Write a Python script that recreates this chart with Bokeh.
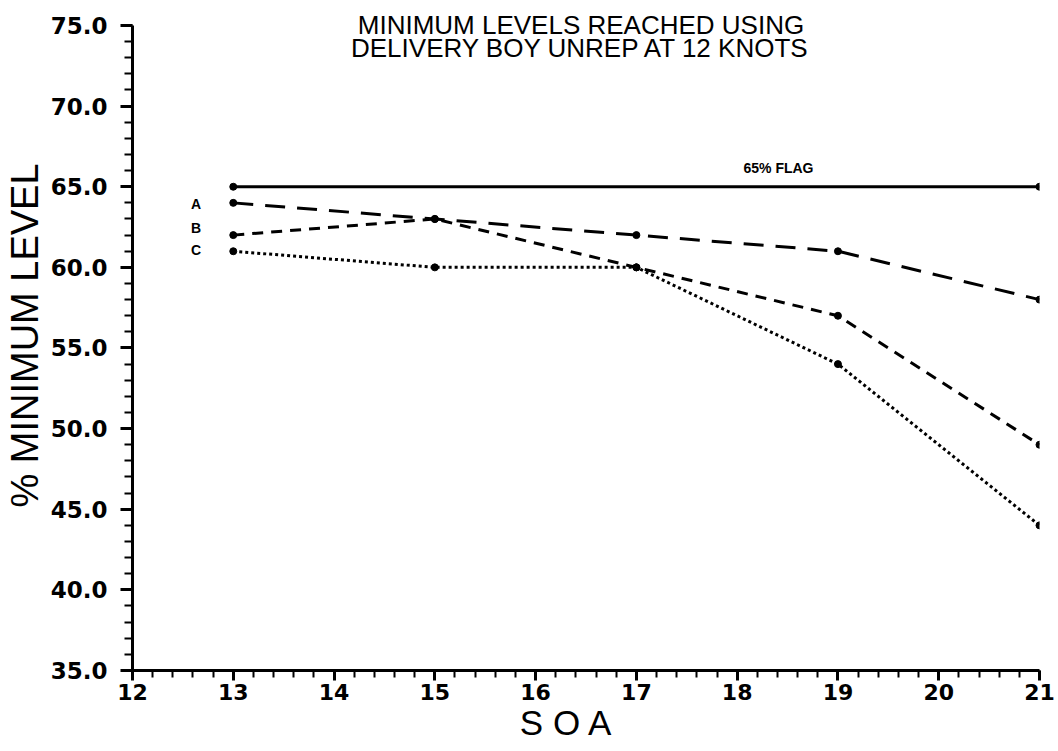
from bokeh.plotting import figure
from bokeh.models import FixedTicker, PrintfTickFormatter, Label, Range1d
from bokeh.embed import file_html
from bokeh.resources import INLINE

# ---- data ----
soa = [13, 15, 17, 19, 21]
series_a = [64, 63, 62, 61, 58]
series_b = [62, 63, 60, 57, 49]
series_c = [61, 60, 60, 54, 44]
flag_x = [13, 21]
flag_y = [65, 65]
flag_label = "65% FLAG"
series_labels = ["A", "B", "C"]
x_ticks = list(range(12, 22))
y_ticks = [35, 40, 45, 50, 55, 60, 65, 70, 75]
title_lines = ["MINIMUM LEVELS REACHED USING", "DELIVERY BOY UNREP AT 12 KNOTS"]

FONT = "Liberation Sans"
TICKFONT = "DejaVu Sans"

x_minor = [round(12 + 0.2 * i, 2) for i in range(46)]
y_minor = [float(v) for v in range(35, 76)]

p = figure(width=1058, height=751, x_range=Range1d(12, 21), y_range=Range1d(35, 76.55),
           output_backend="svg", toolbar_location=None,
           min_border_top=0, min_border_left=132, min_border_right=19,
           min_border_bottom=81)
p.outline_line_color = None
p.grid.visible = False
p.background_fill_color = "white"

# axes
p.xaxis.ticker = FixedTicker(ticks=x_ticks, minor_ticks=x_minor)
p.yaxis.ticker = FixedTicker(ticks=y_ticks, minor_ticks=y_minor)
p.yaxis.formatter = PrintfTickFormatter(format="%.1f")
p.yaxis.bounds = (35, 75)
for ax in (p.xaxis, p.yaxis):
    ax.axis_line_width = 3
    ax.axis_line_color = "black"
    ax.major_tick_line_width = 3
    ax.minor_tick_line_width = 2
    ax.major_tick_line_color = "black"
    ax.minor_tick_line_color = "black"
    ax.major_tick_out = 12
    ax.major_tick_in = 0
    ax.minor_tick_out = 8
    ax.minor_tick_in = 0
    ax.major_label_text_font = TICKFONT
    ax.major_label_text_font_style = "bold"
    ax.major_label_text_font_size = "23px"
    ax.major_label_text_color = "black"
    ax.axis_label_text_font = FONT
    ax.axis_label_text_font_style = "normal"
    ax.axis_label_text_color = "black"

p.xaxis.major_tick_out = 10
p.xaxis.minor_tick_out = 7
p.xaxis.major_label_text_font_size = "22px"
p.xaxis.axis_label = "S   O   A"
p.xaxis.axis_label_text_font_size = "35px"
p.xaxis.axis_label_standoff = 0
p.xaxis.major_label_standoff = 3
p.yaxis.axis_label = "% MINIMUM LEVEL"
p.yaxis.axis_label_text_font_size = "38px"
p.yaxis.axis_label_standoff = 2
p.yaxis.major_label_standoff = 13

# flag line
p.line(flag_x, flag_y, line_color="black", line_width=3)
p.scatter(flag_x, flag_y, size=7, color="black")
p.add_layout(Label(x=18.41, y=66.15, text=flag_label, text_font=FONT, text_font_style="bold",
                   text_font_size="14px", text_align="center", text_baseline="middle",
                   text_color="black"))

# series
styles = [("20 12", series_a), ("11 8", series_b), ("3 3", series_c)]
for dash, ys in styles:
    p.line(soa, ys, line_color="black", line_width=3, line_dash=dash)
    p.scatter(soa, ys, size=7, color="black")

label_y = [63.95, 62.46, 61.05]
for lab, ly in zip(series_labels, label_y):
    p.add_layout(Label(x=12.63, y=ly, text=lab, text_font=FONT, text_font_style="bold",
                       text_font_size="14px", text_align="center", text_baseline="middle",
                       text_color="black"))

# title inside plot area
p.add_layout(Label(x=16.45, y=75.06, text=title_lines[0], text_font=FONT,
                   text_font_size="26px", text_align="center", text_baseline="middle",
                   text_color="black"))
p.add_layout(Label(x=16.45, y=73.6, text=title_lines[1], text_font=FONT,
                   text_font_size="26px", text_align="center", text_baseline="middle",
                   text_color="black"))

open("out.html", "w").write(file_html(p, INLINE))
